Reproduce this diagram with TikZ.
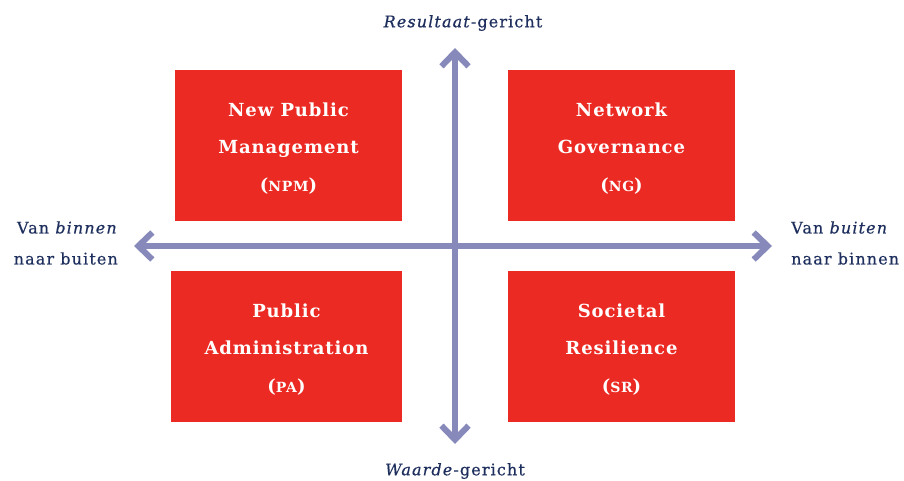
\documentclass[tikz,border=0pt]{standalone}
\usepackage{fontspec}
\setmainfont{DejaVu Serif}
\newfontfamily\boxfont[LetterSpace=5]{DejaVu Serif}
\newfontfamily\labfont[LetterSpace=7,FakeBold=0.5]{DejaVu Serif}
\usetikzlibrary{arrows.meta}
\definecolor{qred}{HTML}{EC2A24}
\definecolor{axis}{HTML}{8689BA}
\definecolor{navy}{HTML}{1E2F5E}
\newcommand{\sca}[1]{{\fontsize{14}{14}\selectfont #1}}
\newcommand{\topgap}{\mbox{}\\[-18.5pt]}
\tikzset{
  quad/.style={fill=qred, draw=none, text=white, align=center, inner sep=0pt,
    minimum height=151pt, font=\boxfont\bfseries\fontsize{18}{37.5}\selectfont},
  axlabel/.style={text=navy, inner sep=0pt, font=\labfont\fontsize{16}{31}\selectfont},
  axline/.style={draw=axis, line width=6pt,
    {Straight Barb[length=14pt,width=27pt,line width=6pt]}-{Straight Barb[length=14pt,width=27pt,line width=6pt]}}
}
\begin{document}
\begin{tikzpicture}[x=1pt,y=-1pt]
\useasboundingbox (0,0) rectangle (904,481);
\node[quad, minimum width=227pt] (npm) at (288.5,145.5) {\topgap New Public\\Management\\(\sca{NPM})};
\node[quad, minimum width=227pt] (ng) at (621.5,145.5) {\topgap Network\\Governance\\(\sca{NG})};
\node[quad, minimum width=231pt] (pa) at (286.5,346.5) {\topgap Public\\Administration\\(\sca{PA})};
\node[quad, minimum width=227pt] (sr) at (621.5,346.5) {\topgap Societal\\Resilience\\(\sca{SR})};
\coordinate (top) at (455,48);
\coordinate (bot) at (455,444);
\coordinate (lft) at (134,246);
\coordinate (rgt) at (772,246);
\draw[axline] (bot) -- (top);
\draw[axline] (lft) -- (rgt);
\node[axlabel] (res) at (463,23) {\textit{Resultaat}-gericht};
\node[axlabel] (waa) at (455,471) {\textit{Waarde}-gericht};
\node[axlabel, anchor=east, align=right] (vbi) at (118,243) {Van \textit{binnen}\\naar buiten};
\node[axlabel, anchor=west, align=left] (vbu) at (791,243) {Van \textit{buiten}\\naar binnen};
\end{tikzpicture}
\end{document}
